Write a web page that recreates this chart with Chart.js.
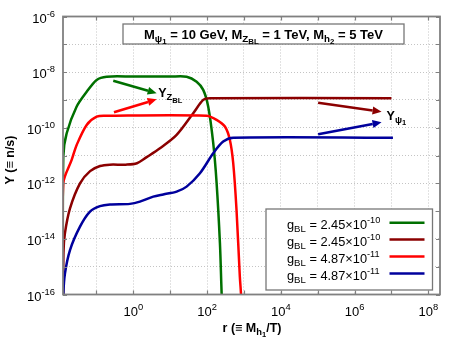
<!DOCTYPE html>
<html>
<head>
<meta charset="utf-8">
<title>Y vs r</title>
<script src="https://cdn.jsdelivr.net/npm/chart.js@4.4.1/dist/chart.umd.min.js"></script>
<style>
  html, body { margin: 0; padding: 0; background: #ffffff; }
  #grafico { display: block; }
</style>
</head>
<body>
<canvas id="grafico" width="463" height="354"></canvas>
<script>
// curvas (r = M_h1/T, Y = n/s)
const rGreen = [0.01245, 0.01268, 0.01567, 0.02924, 0.05458, 0.1019, 0.1901, 1, 10, 27.99, 52.24, 78.89, 107.9, 147.2, 182.0, 223.9, 248.9, 269.2];
const yGreen = [1e-17, 9.12e-12, 6.31e-11, 5.75e-10, 1.95e-9, 5.25e-9, 6.84e-9, 6.92e-9, 6.92e-9, 6.84e-9, 4.52e-9, 2.29e-9, 5.69e-10, 2.82e-11, 1.02e-12, 7.08e-15, 1.12e-16, 1e-17];

const rMaroon = [0.01245, 0.0128, 0.01403, 0.01928, 0.03597, 0.0676, 0.1259, 0.2323, 0.631, 1.259, 2.307, 5.297, 15.0, 42.27, 78.89, 120.2, 1e7];
const yMaroon = [1e-17, 3.16e-15, 1.58e-14, 1.26e-13, 1e-12, 2.75e-12, 4.17e-12, 4.68e-12, 4.68e-12, 5.25e-12, 8.71e-12, 1.82e-11, 5.5e-11, 3.31e-10, 1e-9, 1.15e-9, 1.15e-9];

const rRed = [0.01245, 0.01268, 0.02138, 0.02924, 0.05458, 0.1019, 0.1901, 97.5, 182.0, 305.5, 416.9, 512.9, 631.0, 776.2, 831.8, 891];
const yRed = [1e-17, 1e-12, 6.92e-12, 2.4e-11, 1.26e-10, 2.51e-10, 2.69e-10, 2.69e-10, 1.91e-10, 1.1e-10, 3.63e-11, 5.37e-12, 1.1e-13, 4.37e-16, 1.12e-16, 1e-17];

const rBlue = [0.01245, 0.01268, 0.01409, 0.01928, 0.03597, 0.06714, 0.125, 0.2333, 0.813, 1.514, 3.483, 6.501, 15.0, 27.99, 64.27, 147.2, 274.8, 512.9, 1.1e7];
const yBlue = [1e-17, 1e-16, 5.75e-16, 3.98e-15, 2.75e-14, 9.55e-14, 1.51e-13, 1.74e-13, 1.82e-13, 2.19e-13, 3.31e-13, 3.98e-13, 5.01e-13, 7.59e-13, 2.29e-12, 1.2e-11, 3.16e-11, 4.37e-11, 4.37e-11];

const seriesColors = ["#007000", "#8b0000", "#ff0000", "#00009c"];
const couplingMantissa = ["2.45", "2.45", "4.87", "4.87"];
const couplingExponent = ["-10", "-10", "-11", "-11"];

const xGridTicks = [1e-1, 1, 1e1, 1e2, 1e3, 1e4, 1e5, 1e6, 1e7, 1e8];
const xLabelTicks = [1, 1e2, 1e4, 1e6, 1e8];
const yGridTicks = [1e-16, 1e-15, 1e-14, 1e-13, 1e-12, 1e-11, 1e-10, 1e-9, 1e-8, 1e-7, 1e-6];
const yLabelTicks = [1e-16, 1e-14, 1e-12, 1e-10, 1e-8, 1e-6];

// setas e rotulos (posicoes em coordenadas dos dados)
const arrowSeries = [0, 2, 1, 3];
const arrowStartR = [0.287, 0.30, 1.03e5, 1.03e5];
const arrowStartY = [4.9e-9, 3.58e-10, 7.9e-10, 5.8e-11];
const arrowEndR = [4.31, 4.31, 5.4e6, 5.4e6];
const arrowEndY = [1.73e-9, 1.05e-9, 3.77e-10, 1.56e-10];
const labelR = [4.77, 7.4e6];
const labelY = [1.24e-9, 1.89e-10];
const labelParts = [
  [["Y", 0], ["Z", 1], ["BL", 2]],
  [["Y", 0], ["\u03c8", 1], ["1", 2]]
];

const fonte = '"Liberation Sans", Arial, Helvetica, sans-serif';
Chart.defaults.font.family = fonte;

// texto com sub/sobrescritos: nivel 0 normal, 1 sub, 2 sub-sub, -1 sobrescrito
function escreverRico(ctx, partes, x, y, tamanho, negrito, alinhamento) {
  const estilo = (nivel) => {
    let escala = 1;
    let dy = 0;
    if (nivel === 1) { escala = 0.75; dy = tamanho * 0.25; }
    if (nivel === 2) { escala = 0.6; dy = tamanho * 0.42; }
    if (nivel === -1) { escala = 0.72; dy = -tamanho * 0.45; }
    return { font: (negrito ? "bold " : "") + (tamanho * escala).toFixed(1) + "px " + fonte, dy: dy };
  };
  let largura = 0;
  partes.forEach((p) => {
    ctx.font = estilo(p[1]).font;
    largura += ctx.measureText(p[0]).width;
  });
  let cx = x;
  if (alinhamento === "center") cx = x - largura / 2;
  if (alinhamento === "right") cx = x - largura;
  ctx.textAlign = "left";
  ctx.textBaseline = "alphabetic";
  partes.forEach((p) => {
    const st = estilo(p[1]);
    ctx.font = st.font;
    ctx.fillText(p[0], cx, y + st.dy);
    cx += ctx.measureText(p[0]).width;
  });
  return largura;
}

function desenharSeta(ctx, x0, y0, x1, y1, cor) {
  const ang = Math.atan2(y1 - y0, x1 - x0);
  const comp = 9;
  const larg = 4;
  const bx = x1 - comp * Math.cos(ang);
  const by = y1 - comp * Math.sin(ang);
  ctx.strokeStyle = cor;
  ctx.fillStyle = cor;
  ctx.lineWidth = 2.5;
  ctx.beginPath();
  ctx.moveTo(x0, y0);
  ctx.lineTo(bx, by);
  ctx.stroke();
  ctx.beginPath();
  ctx.moveTo(x1, y1);
  ctx.lineTo(bx + larg * Math.sin(ang), by - larg * Math.cos(ang));
  ctx.lineTo(bx - larg * Math.sin(ang), by + larg * Math.cos(ang));
  ctx.closePath();
  ctx.fill();
}

function expoente(v) {
  return String(Math.round(Math.log10(v)));
}

const desenhoExtra = {
  id: "desenhoExtra",
  afterDatasetsDraw(chart) {
    const ctx = chart.ctx;
    const a = chart.chartArea;
    const xs = chart.scales.x;
    const ys = chart.scales.y;
    ctx.save();

    // setas
    arrowSeries.forEach((s, i) => {
      desenharSeta(ctx,
        xs.getPixelForValue(arrowStartR[i]), ys.getPixelForValue(arrowStartY[i]),
        xs.getPixelForValue(arrowEndR[i]), ys.getPixelForValue(arrowEndY[i]),
        seriesColors[s]);
    });
    ctx.fillStyle = "#000";
    labelParts.forEach((partes, i) => {
      escreverRico(ctx, partes, xs.getPixelForValue(labelR[i]), ys.getPixelForValue(labelY[i]), 12.5, true, "left");
    });

    // caixa do titulo
    const tx = a.left + 60;
    const ty = a.top + 7.5;
    ctx.fillStyle = "#fff";
    ctx.fillRect(tx, ty, 281, 20);
    ctx.strokeStyle = "#777";
    ctx.lineWidth = 1.3;
    ctx.strokeRect(tx, ty, 281, 20);
    ctx.fillStyle = "#000";
    escreverRico(ctx, [
      ["M", 0], ["\u03c8", 1], ["1", 2], [" = 10 GeV, M", 0], ["Z", 1], ["BL", 2],
      [" = 1 TeV, M", 0], ["h", 1], ["2", 2], [" = 5 TeV", 0]
    ], tx + 140.5, ty + 15, 13, true, "center");

    // caixa da legenda
    const lx = a.left + 203;
    const ly = a.top + 192.5;
    const lw = 166.5;
    const lh = 81;
    ctx.fillStyle = "#fff";
    ctx.fillRect(lx, ly, lw, lh);
    ctx.strokeStyle = "#777";
    ctx.lineWidth = 1.3;
    ctx.strokeRect(lx, ly, lw, lh);
    seriesColors.forEach((cor, i) => {
      const yy = ly + 13.7 + i * 16.9;
      ctx.fillStyle = "#000";
      escreverRico(ctx, [["g", 0], ["BL", 1], [" = " + couplingMantissa[i] + "\u00d710", 0], [couplingExponent[i], -1]],
        lx + 21, yy + 6.3, 12.8, false, "left");
      ctx.strokeStyle = cor;
      ctx.lineWidth = 2.5;
      ctx.beginPath();
      ctx.moveTo(lx + 123.5, yy);
      ctx.lineTo(lx + 158.5, yy);
      ctx.stroke();
    });

    // moldura e marcas internas
    ctx.strokeStyle = "#808080";
    ctx.lineWidth = 1.2;
    xGridTicks.forEach((v) => {
      const px = Math.round(xs.getPixelForValue(v)) + 0.5;
      ctx.beginPath();
      ctx.moveTo(px, a.bottom); ctx.lineTo(px, a.bottom - 4);
      ctx.moveTo(px, a.top); ctx.lineTo(px, a.top + 4);
      ctx.stroke();
    });
    yGridTicks.forEach((v) => {
      const py = Math.round(ys.getPixelForValue(v)) + 0.5;
      ctx.beginPath();
      ctx.moveTo(a.left, py); ctx.lineTo(a.left + 4, py);
      ctx.moveTo(a.right, py); ctx.lineTo(a.right - 4, py);
      ctx.stroke();
    });
    ctx.lineWidth = 1.8;
    ctx.strokeRect(a.left, a.top, a.right - a.left, a.bottom - a.top);
    ctx.restore();
  },
  afterDraw(chart) {
    const ctx = chart.ctx;
    const a = chart.chartArea;
    const xs = chart.scales.x;
    const ys = chart.scales.y;
    ctx.save();
    ctx.fillStyle = "#000";
    yLabelTicks.forEach((v) => {
      const py = ys.getPixelForValue(v);
      escreverRico(ctx, [["10", 0], [expoente(v), -1]], a.left - 8, py + 6, 13, false, "right");
    });
    xLabelTicks.forEach((v) => {
      const px = xs.getPixelForValue(v);
      escreverRico(ctx, [["10", 0], [expoente(v), -1]], px, a.bottom + 21, 13, false, "center");
    });
    // titulos dos eixos
    escreverRico(ctx, [["r (\u2261 M", 0], ["h", 1], ["1", 2], ["/T)", 0]], 252, 332, 12.5, true, "center");
    ctx.translate(14, 160);
    ctx.rotate(-Math.PI / 2);
    escreverRico(ctx, [["Y (\u2261 n/s)", 0]], 0, 0, 12.5, true, "center");
    ctx.restore();
  }
};

function montarPontos(rs, ys) {
  return rs.map((r, i) => ({ x: r, y: ys[i] }));
}

const series = [[rGreen, yGreen], [rMaroon, yMaroon], [rRed, yRed], [rBlue, yBlue]];

const grafico = new Chart(document.getElementById("grafico"), {
  type: "line",
  data: {
    datasets: series.map((s, i) => ({
      data: montarPontos(s[0], s[1]),
      borderColor: seriesColors[i],
      borderWidth: 2.5,
      pointRadius: 0,
      fill: false,
      tension: 0.3,
      order: series.length - i
    }))
  },
  options: {
    responsive: false,
    animation: false,
    devicePixelRatio: 1,
    layout: { padding: { left: 63, right: 23, top: 16.5, bottom: 59.5 } },
    plugins: { legend: { display: false }, tooltip: { enabled: false } },
    scales: {
      x: {
        type: "logarithmic",
        min: 0.01245,
        max: 2.075e8,
        afterBuildTicks: (s) => { s.ticks = xGridTicks.map((v) => ({ value: v })); },
        ticks: { display: false },
        grid: { color: "#c4c4c4", lineWidth: 1, drawTicks: false },
        border: { display: false, dash: [1, 2] }
      },
      y: {
        type: "logarithmic",
        min: 1e-16,
        max: 1e-6,
        afterBuildTicks: (s) => { s.ticks = yGridTicks.map((v) => ({ value: v })); },
        ticks: { display: false },
        grid: { color: "#c4c4c4", lineWidth: 1, drawTicks: false },
        border: { display: false, dash: [1, 2] }
      }
    }
  },
  plugins: [desenhoExtra]
});
</script>
</body>
</html>
